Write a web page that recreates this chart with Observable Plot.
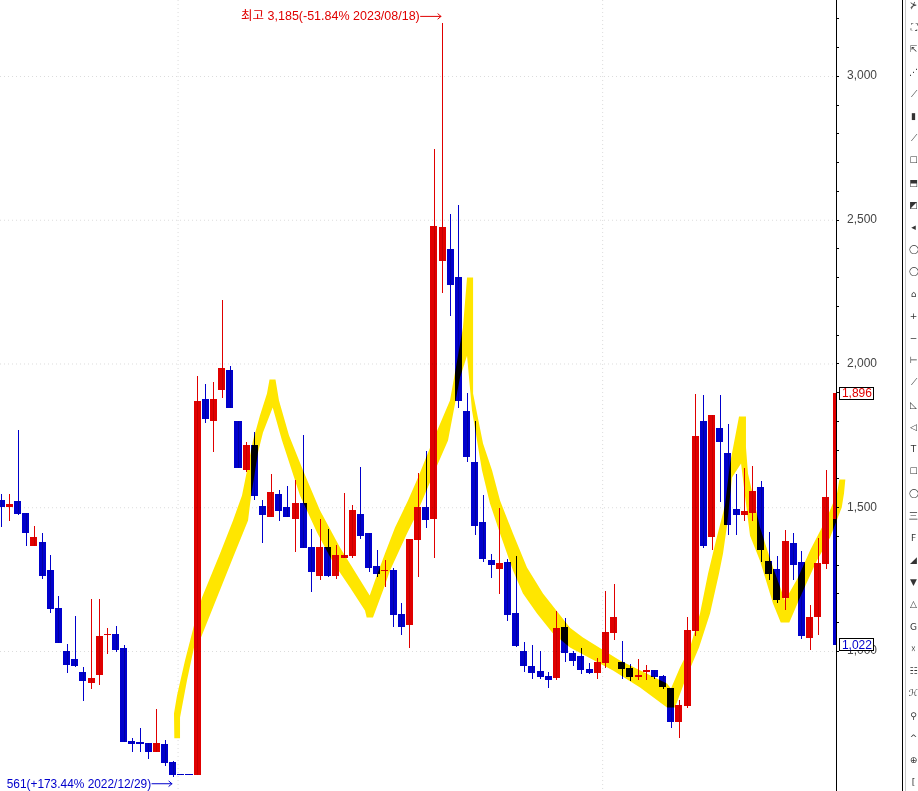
<!DOCTYPE html>
<html lang="ko">
<head>
<meta charset="utf-8">
<script src="https://cdn.jsdelivr.net/npm/d3@7"></script>
<script src="https://cdn.jsdelivr.net/npm/@observablehq/plot@0.6"></script>
<style>
html,body{margin:0;padding:0;background:#fff;overflow:hidden}
#chart{position:relative;width:918px;height:791px;overflow:hidden}
#chart svg{display:block}
#tools{position:absolute;left:909px;top:-6px;width:9px;font:9px/22.2px "DejaVu Sans",sans-serif;color:#333;white-space:nowrap;text-align:center}
</style>
</head>
<body>
<div id="chart"></div>
<script>
const opens=[1525,1501,1522,1480,1365,1379,1282,1149,1000,972,927,889,917,1056,1059,1010,687,684,680,649,677,614,573,573,569,1876,1800,1908,1977,1800,1630,1717,1504,1466,1546,1501,1459,1515,1362,1261,1362,1261,1324,1330,1477,1410,1296,1278,1282,1129,1090,1386,1501,1459,2356,2398,2301,1835,1657,1449,1317,1285,1310,1132,1000,948,930,913,906,1083,993,983,937,923,958,1063,962,941,909,927,934,913,871,753,809,1069,1800,1397,1776,1689,1494,1473,1480,1570,1313,1285,1184,1376,1310,1045,1118,1303,1459,1459];
const highs=[1546,1546,1769,1480,1435,1410,1334,1191,1024,1122,944,1181,1181,1080,1087,1021,698,732,680,798,691,618,573,573,1957,1929,1936,2221,1991,1800,1727,1762,1525,1616,1560,1574,1595,1751,1425,1459,1425,1369,1550,1508,1640,1410,1351,1317,1289,1167,1390,1619,1696,2746,3185,2520,2551,1897,1800,1542,1338,1497,1320,1330,1031,1021,1000,927,1139,1115,1000,1010,958,976,1209,1233,1035,955,972,951,934,917,871,830,1118,1894,1890,1821,1890,1790,1616,1636,1643,1591,1414,1330,1421,1410,1348,1160,1393,1630,1896,1459];
const lows=[1431,1452,1473,1365,1365,1250,1132,1028,923,944,826,868,882,990,997,684,649,649,624,649,600,561,569,569,569,1793,1692,1880,1845,1636,1623,1525,1376,1466,1452,1466,1344,1358,1205,1247,1257,1250,1324,1324,1390,1275,1257,1222,1083,1056,1010,1257,1428,1324,2245,2165,1845,1657,1403,1310,1254,1198,1104,1014,927,903,903,871,899,962,948,920,920,903,941,1038,903,896,899,899,903,868,732,698,802,1052,1358,1351,1518,1403,1403,1452,1452,1310,1247,1167,1142,1247,1042,1003,1056,1285,1459,1022];
const closes=[1501,1511,1477,1410,1397,1261,1146,1028,951,948,896,906,1052,1059,1003,684,677,677,649,680,611,569,569,569,1869,1807,1876,1984,1845,1636,1717,1539,1473,1553,1487,1466,1515,1358,1275,1362,1261,1334,1334,1491,1400,1289,1268,1282,1125,1083,1390,1501,1456,2478,2475,2273,1869,1675,1435,1320,1299,1306,1125,1017,948,923,909,899,1080,993,965,934,923,962,1066,1118,937,909,917,934,909,875,753,812,1073,1748,1365,1821,1727,1438,1473,1487,1556,1351,1268,1177,1383,1299,1052,1118,1306,1536,1896,1022];

const bandUpperWeeks=[21.14,21.10,21.47,22.45,23.55,24.53,26.74,28.33,29.43,29.80,30.78,31.63,32.49,32.80,33.53,33.96,35.19,36.90,38.99,41.43,45.07,45.72,46.94,48.17,49.76,50.99,52.82,54.90,55.63,56.49,56.99,57.73,57.73,57.73,58.95,60.05,61.03,62.62,64.33,66.29,69.60,71.19,75.72,81.48,81.97,83.07,84.30,85.52,86.51,87.48,88.58,89.20,90.30,91.15,91.15,91.40,92.87,94.46,95.93,97.53,99.00,101.08,102.31,102.59,103.32];
const bandUpperPrices=[698,784,847,969,1090,1188,1341,1456,1543,1595,1734,1821,1897,1946,1946,1873,1751,1630,1490,1362,1195,1247,1341,1431,1525,1605,1734,1873,1988,2127,2301,2301,2106,1897,1723,1630,1525,1410,1292,1202,1083,1049,969,889,871,944,1014,1132,1271,1386,1508,1654,1817,1817,1710,1619,1431,1292,1177,1257,1351,1466,1550,1598,1598];
const bandLowerWeeks=[103.16,102.88,101.44,99.85,97.77,96.46,95.41,94.46,92.87,91.65,91.15,90.55,89.44,88.83,88.34,87.85,86.75,85.40,83.69,82.46,81.48,78.18,74.87,69.60,67.52,65.56,63.84,62.62,61.03,59.80,58.82,57.60,56.99,56.13,54.66,53.43,50.62,49.64,47.56,46.70,45.47,44.70,44.49,42.66,40.57,39.60,38.62,36.53,34.33,33.19,32.00,31.39,30.53,30.17,28.33,25.88,24.41,23.55,22.69,21.84,21.84];
const bandLowerPrices=[1550,1501,1396,1317,1188,1101,1101,1167,1316,1403,1515,1654,1605,1438,1341,1271,1132,1014,899,805,805,875,934,1014,1063,1132,1202,1282,1410,1515,1630,1838,2029,1953,1734,1654,1466,1410,1282,1212,1118,1118,1143,1223,1310,1362,1414,1543,1734,1849,1762,1692,1539,1456,1327,1153,1049,1014,899,770,698];

const gridPrices=[1000,1500,2000,2500,3000];
const tickPrices=d3.range(1000,3201,100);
const gridWeeks=[21.6,73.6];
const lowLabel="561(+173.44% 2022/12/29)";
const highLabel="최고 3,185(-51.84% 2023/08/18)";
const lastHigh=1896, lastLow=1022;
const toolGlyphs=["⊁","⛶","⇱","⋰","⟋","▮","⟋","☐","⬒","◩","◂","◯","◯","⌂","+","−","⊢","⟋","◺","◁","T","☐","◯","三","F","◢","▼","△","G","☓","☷","ℋ","⚲","^","⊕","["];

const RED="#e00000", BLUE="#0000cc", YELLOW="#ffe600";
const axisWeek=102.24, lastWeek=102.25, halfBody=0.43;
const candles=opens.map((o,i)=>({week:i>=102?lastWeek:i,o,h:highs[i],l:lows[i],c:closes[i]}));
const up=d=>d.c>=d.o;
const outline=[
  ...bandUpperWeeks.map((w,i)=>({w,p:bandUpperPrices[i]})),
  ...bandLowerWeeks.map((w,i)=>({w,p:bandLowerPrices[i]}))
];
const crisp={shapeRendering:"crispEdges"};
const font='"Liberation Sans","Noto Sans CJK KR",sans-serif';

const plot=Plot.plot({
  width:918,height:791,margin:0,
  style:{background:"#fff",fontFamily:font},
  x:{type:"linear",domain:[-0.147,112.281],range:[0,918],axis:null},
  y:{type:"linear",domain:[513,3264.3],range:[791,0],axis:null},
  color:{type:"identity"},
  marks:[
    Plot.ruleY(gridPrices,{x1:-0.147,x2:axisWeek,stroke:"#dcdcdc",strokeDasharray:"1,3"}),
    Plot.ruleX(gridWeeks,{stroke:"#dcdcdc",strokeDasharray:"1,3"}),
    Plot.line(outline,{x:"w",y:"p",fill:YELLOW,stroke:"none"}),
    Plot.ruleX(candles,{x:"week",y1:"l",y2:"h",stroke:d=>up(d)?RED:BLUE,strokeWidth:1,mixBlendMode:"multiply",...crisp}),
    Plot.rect(candles,{
      x1:d=>d.week-halfBody,
      x2:d=>Math.min(d.week+halfBody,axisWeek),
      y1:d=>Math.min(d.o,d.c),
      y2:d=>Math.max(d.o,d.c),
      fill:d=>up(d)?RED:BLUE,
      mixBlendMode:"multiply",...crisp
    }),
    Plot.ruleX([axisWeek],{stroke:"#000",strokeWidth:1,...crisp}),
    Plot.ruleX([axisWeek+8.1],{stroke:"#000",strokeWidth:1,...crisp}),
    Plot.ruleX([axisWeek+8.5],{stroke:"#c8c8c8",strokeWidth:1,...crisp}),
    Plot.ruleY(tickPrices,{x1:axisWeek,x2:axisWeek+0.4,stroke:"#000",...crisp}),
    Plot.text(gridPrices,{x:axisWeek+1.28,y:d=>d,text:d=>d3.format(",")(d),textAnchor:"start",fill:"#444",fontSize:12,dy:-1}),
    Plot.text([highLabel],{x:51.2,y:3209,text:d=>d,textAnchor:"end",fill:RED,fontSize:12.5}),
    Plot.arrow([0],{x1:51.3,x2:53.8,y1:3209,y2:3209,stroke:RED,strokeWidth:1,headLength:6,headAngle:80,inset:0}),
    Plot.text([lowLabel],{x:18.3,y:540,text:d=>d,textAnchor:"end",fill:BLUE,fontSize:11.9}),
    Plot.arrow([0],{x1:18.4,x2:20.85,y1:540,y2:540,stroke:BLUE,strokeWidth:1,headLength:6,headAngle:80,inset:0}),
    Plot.rect([lastHigh,lastLow],{x1:axisWeek+0.45,x2:axisWeek+4.55,y1:d=>d-22,y2:d=>d+22,fill:"#fff",stroke:"#000",strokeWidth:1,...crisp}),
    Plot.text([lastHigh],{x:axisWeek+2.5,y:1899,text:d=>d3.format(",")(d),fill:RED,fontSize:12}),
    Plot.text([lastLow],{x:axisWeek+2.5,y:1021,text:d=>d3.format(",")(d),fill:BLUE,fontSize:12})
  ]
});
const root=document.getElementById("chart");
root.appendChild(plot);
const tools=document.createElement("div");
tools.id="tools";
tools.innerHTML=toolGlyphs.map(g=>`<div>${g}</div>`).join("");
root.appendChild(tools);
</script>
</body>
</html>
